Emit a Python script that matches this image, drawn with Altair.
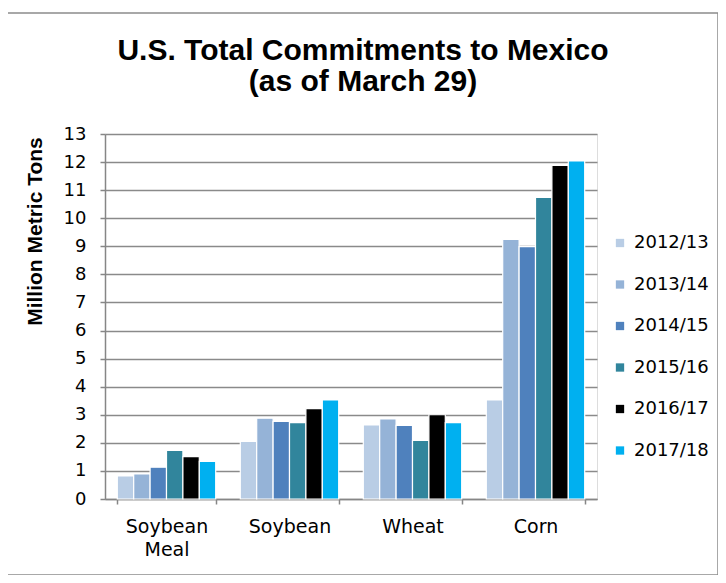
import altair as alt
import pandas as pd

categories = ["Soybean Meal", "Soybean", "Wheat", "Corn"]
years = ["2012/13", "2013/14", "2014/15", "2015/16", "2016/17", "2017/18"]
colors = ["#B9CDE5", "#95B3D7", "#4F81BD", "#31859C", "#000000", "#00B0F0"]

v_2012_13 = [0.82, 2.05, 2.64, 3.53]
v_2013_14 = [0.89, 2.88, 2.85, 9.25]
v_2014_15 = [1.13, 2.76, 2.62, 8.99]
v_2015_16 = [1.73, 2.72, 2.09, 10.74]
v_2016_17 = [1.51, 3.22, 3.00, 11.88]
v_2017_18 = [1.34, 3.53, 2.72, 12.04]
series = [v_2012_13, v_2013_14, v_2014_15, v_2015_16, v_2016_17, v_2017_18]

rows = []
for y, vals in zip(years, series):
    for c, v in zip(categories, vals):
        rows.append({"crop": c, "year": y, "value": v})
df = pd.DataFrame(rows)

FONT = "Liberation Sans"
LFONT = "DejaVu Sans"

bars = alt.Chart(df).mark_bar(stroke="white", strokeWidth=1.2).encode(
    x=alt.X("crop:N", sort=categories,
            scale=alt.Scale(paddingInner=0.2, paddingOuter=0.1),
            axis=alt.Axis(title=None, labelAngle=0, labelFontSize=19, labelFont=LFONT,
                          labelColor="#000000", labelPadding=13, tickBand="extent",
                          tickSize=5, tickColor="#868686", tickWidth=1.5,
                          domainColor="#868686", domainWidth=1.5,
                          labelLineHeight=23,
                          labelExpr="datum.value == 'Soybean Meal' ? ['Soybean', 'Meal'] : datum.value")),
    xOffset=alt.XOffset("year:N", sort=years),
    y=alt.Y("value:Q", scale=alt.Scale(domain=[0, 13], nice=False),
            axis=alt.Axis(title="Million Metric Tons", values=list(range(0, 14)),
                          labelFontSize=18, labelFont=LFONT, labelColor="#000000",
                          labelPadding=14, tickSize=5, tickColor="#868686", tickWidth=1.5,
                          domainColor="#868686", domainWidth=1.5,
                          gridColor="#8a8a8a", gridWidth=1.5,
                          titleFont=FONT, titleFontSize=21, titleFontWeight="bold",
                          titleColor="#000000", titleX=-70, titleY=97, titleAngle=270,
                          titleAlign="center", titleBaseline="middle")),
    color=alt.Color("year:N", sort=years,
                    scale=alt.Scale(domain=years, range=colors),
                    legend=alt.Legend(title=None, orient="none", legendX=506, legendY=100,
                                      symbolType="square", symbolSize=69, symbolStrokeWidth=0,
                                      labelFontSize=18, labelFont=LFONT, labelColor="#000000",
                                      labelOffset=5, rowPadding=23.5)),
)

border = alt.Chart(pd.DataFrame({"a": [0]})).mark_rect(
    fill=None, stroke="#8c8c8c", strokeWidth=1.5
).encode(x=alt.value(-98), x2=alt.value(613), y=alt.value(-121), y2=alt.value(441))

chart = alt.layer(border, bars).properties(
    width=492, height=365,
    autosize=alt.AutoSizeParams(type="none"),
    padding={"left": 97, "top": 126, "right": 121, "bottom": 76},
    title=alt.TitleParams(["U.S. Total Commitments to Mexico", "(as of March 29)"],
                          font=FONT, fontSize=30, fontWeight="bold", color="#000000",
                          anchor="middle", dx=12, offset=-85, lineHeight=31),
).configure_view(stroke=None).configure(background="white")

chart.save("out.html", embed_options={"renderer": "svg", "actions": False})
